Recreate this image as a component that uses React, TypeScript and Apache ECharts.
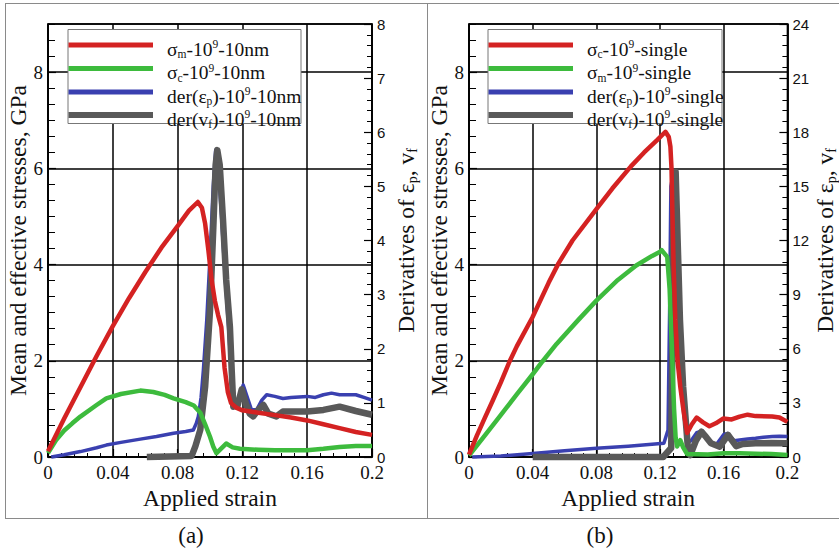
import React, { useEffect, useRef } from 'react';
import * as echarts from 'echarts';

const SERIF = 'Liberation Serif';
const SANS = 'Liberation Sans';

// ---------- data (strain, value) ----------
// panel (a): left axis GPa
const aSigmaM: [number, number][] = [
  [0, 0.12], [0.01, 0.8], [0.02, 1.45], [0.03, 2.1], [0.04, 2.72], [0.05, 3.3], [0.06, 3.84],
  [0.07, 4.35], [0.08, 4.8], [0.087, 5.12], [0.0925, 5.3], [0.095, 5.18], [0.097, 4.85],
  [0.099, 4.3], [0.101, 3.68], [0.103, 3.25], [0.105, 2.95], [0.107, 2.7], [0.109, 1.85],
  [0.111, 1.35], [0.113, 1.12], [0.1165, 1.02], [0.12, 0.97], [0.13, 0.92], [0.14, 0.87],
  [0.15, 0.82], [0.16, 0.76], [0.17, 0.68], [0.18, 0.6], [0.19, 0.52], [0.2, 0.46],
];
const aSigmaC: [number, number][] = [
  [0, 0.08], [0.005, 0.35], [0.01, 0.55], [0.015, 0.7], [0.02, 0.84], [0.03, 1.08], [0.036, 1.22],
  [0.045, 1.31], [0.057, 1.38], [0.065, 1.35], [0.072, 1.29], [0.0775, 1.22], [0.085, 1.14],
  [0.09, 1.07], [0.094, 0.92], [0.097, 0.68], [0.1, 0.42], [0.102, 0.22], [0.104, 0.08],
  [0.107, 0.18], [0.11, 0.28], [0.114, 0.2], [0.1185, 0.17], [0.13, 0.15], [0.14, 0.14],
  [0.15, 0.14], [0.16, 0.14], [0.17, 0.17], [0.18, 0.21], [0.19, 0.23], [0.2, 0.23],
];
// panel (a): right axis
const aDerEp: [number, number][] = [
  [0.002, 0], [0.01, 0.04], [0.02, 0.1], [0.03, 0.17], [0.036, 0.22], [0.045, 0.27], [0.057, 0.33],
  [0.067, 0.38], [0.0775, 0.44], [0.085, 0.47], [0.0897, 0.5], [0.0915, 0.62], [0.0928, 0.75],
  [0.0945, 1.1], [0.0959, 1.6], [0.098, 2.53], [0.1, 3.7], [0.102, 5.0], [0.1035, 5.67],
  [0.105, 5.4], [0.107, 4.5], [0.109, 3.5], [0.111, 2.6], [0.1125, 1.9], [0.114, 1.3],
  [0.1155, 0.95], [0.118, 1.1], [0.1205, 1.33], [0.1225, 1.15], [0.1255, 0.88], [0.1288, 0.87],
  [0.132, 1.05], [0.135, 1.15], [0.14, 1.12], [0.145, 1.08], [0.15, 1.1], [0.16, 1.12],
  [0.165, 1.1], [0.17, 1.15], [0.175, 1.18], [0.18, 1.15], [0.19, 1.15], [0.195, 1.1], [0.2, 1.05],
];
const aDerVf: [number, number][] = [
  [0.061, 0], [0.0887, 0.02], [0.091, 0.2], [0.094, 0.5], [0.097, 1.3], [0.1, 2.7], [0.102, 4.2],
  [0.1035, 5.4], [0.1045, 5.67], [0.106, 5.4], [0.108, 4.4], [0.11, 3.27], [0.1123, 2.4],
  [0.1134, 1.6], [0.1144, 0.93], [0.117, 0.95], [0.1196, 1.25], [0.122, 1.0], [0.1245, 0.8],
  [0.1267, 0.75], [0.13, 0.88], [0.133, 0.96], [0.136, 0.8], [0.141, 0.75], [0.145, 0.84],
  [0.15, 0.84], [0.16, 0.84], [0.17, 0.87], [0.18, 0.93], [0.19, 0.85], [0.2, 0.78],
];
// panel (b): left axis GPa
const bSigmaC: [number, number][] = [
  [0, 0.05], [0.005, 0.45], [0.01, 0.82], [0.015, 1.18], [0.02, 1.55], [0.0254, 1.98], [0.03, 2.3],
  [0.0398, 2.9], [0.05, 3.62], [0.0563, 4.03], [0.065, 4.5], [0.0811, 5.2], [0.09, 5.58],
  [0.1017, 6.04], [0.11, 6.33], [0.1183, 6.59], [0.1234, 6.76], [0.1255, 6.65], [0.1265, 6.45],
  [0.1272, 6.0], [0.1276, 5.34], [0.1285, 4.0], [0.1296, 2.85], [0.131, 2.0], [0.1327, 1.46],
  [0.135, 0.9], [0.137, 0.5], [0.14, 0.68], [0.143, 0.82], [0.147, 0.72], [0.151, 0.64],
  [0.155, 0.7], [0.1596, 0.8], [0.165, 0.78], [0.17, 0.84], [0.175, 0.88], [0.18, 0.85],
  [0.1905, 0.84], [0.195, 0.82], [0.2, 0.73],
];
const bSigmaM: [number, number][] = [
  [0, 0.03], [0.01, 0.45], [0.0192, 0.84], [0.03, 1.3], [0.04, 1.72], [0.046, 1.98], [0.055, 2.35],
  [0.0687, 2.85], [0.08, 3.25], [0.0935, 3.68], [0.105, 3.98], [0.115, 4.18], [0.1203, 4.27],
  [0.121, 4.3], [0.1245, 4.16], [0.126, 3.5], [0.1275, 2.2], [0.1288, 1.0], [0.1298, 0.4],
  [0.1307, 0.22], [0.1327, 0.35], [0.1345, 0.2], [0.137, 0.06], [0.15, 0.05], [0.16, 0.08],
  [0.17, 0.08], [0.18, 0.07], [0.19, 0.06], [0.2, 0.04],
];
// panel (b): right axis
const bDerEp: [number, number][] = [
  [0.002, 0], [0.02, 0.05], [0.04, 0.2], [0.06, 0.35], [0.08, 0.48], [0.1, 0.6], [0.1224, 0.76],
  [0.125, 1.5], [0.126, 8], [0.1268, 15], [0.1285, 15.8], [0.1295, 15], [0.132, 8], [0.1345, 3],
  [0.137, 0.8], [0.1395, 0.9], [0.143, 1.35], [0.1465, 1.45], [0.1515, 0.8], [0.1555, 0.7],
  [0.16, 1.25], [0.1625, 1.3], [0.1665, 0.9], [0.17, 0.94], [0.175, 1.0], [0.18, 1.04],
  [0.185, 1.1], [0.1905, 1.13], [0.195, 1.15], [0.2, 1.13],
];
const bDerVf: [number, number][] = [
  [0.04, 0], [0.122, 0], [0.127, 0.5], [0.128, 8], [0.1285, 15.8], [0.1298, 15.8], [0.1325, 7.6],
  [0.1345, 3.9], [0.1375, 0.5], [0.139, 0.1], [0.1425, 0.9], [0.146, 1.4], [0.149, 1.1],
  [0.152, 0.76], [0.1575, 0.57], [0.1627, 1.22], [0.1678, 0.6], [0.172, 0.72], [0.18, 0.76],
  [0.19, 0.77], [0.2, 0.76],
];

const namesA = ['σm-10⁹-10nm', 'σc-10⁹-10nm', 'der(εp)-10⁹-10nm', 'der(vf)-10⁹-10nm'];
const namesB = ['σc-10⁹-single', 'σm-10⁹-single', 'der(εp)-10⁹-single', 'der(vf)-10⁹-single'];
// legend label parts: [before subscript, subscript, after subscript]
const partsA: [string, string, string][] = [['σ', 'm', ''], ['σ', 'c', ''], ['der(ε', 'p', ')'], ['der(v', 'f', ')']];
const partsB: [string, string, string][] = [['σ', 'c', ''], ['σ', 'm', ''], ['der(ε', 'p', ')'], ['der(v', 'f', ')']];

const COLORS = ['#d42222', '#3dbb3d', '#3a40b0', '#595959'];
const WIDTHS = [4.5, 4.5, 3.5, 6.5];
const ZS = [5, 4, 2, 3];

const xTitle = '{t|Applied strain}';
const leftTitle = '{t|Mean and effective stresses, GPa}';
const rightTitle = '{n|Derivatives of ε}{sub|p}{n|, v}{sub|f}';

export default function App() {
  const ref = useRef<HTMLDivElement>(null);
  useEffect(() => {
    if (!ref.current) return;
    const chart = echarts.init(ref.current, null, { renderer: 'svg' });

    const grids = [
      { left: 48, top: 24, width: 324, height: 433 },
      { left: 469, top: 24, width: 323, height: 433 },
    ];
    const titleRich = { t: { fontFamily: SERIF, fontSize: 23.5, lineHeight: 24, color: '#111' } };
    const serifLabel = { s: { fontFamily: SERIF, fontSize: 19, lineHeight: 20, color: '#111' } };
    const sansLabel = { s: { fontFamily: SANS, fontSize: 15, lineHeight: 16, color: '#111' } };
    const fmt = (v: number) => `{s|${+Number(v).toFixed(2)}}`;

    const xAxis: any[] = grids.map((_, i) => ({
      type: 'value', gridIndex: i, min: 0, max: 0.2, interval: 0.04,
      axisLine: { show: true, onZero: false, lineStyle: { color: '#000', width: 1.5 } },
      axisTick: { show: true, inside: true, length: 8, lineStyle: { color: '#000', width: 1.2 } },
      minorTick: { show: true, splitNumber: 5, length: 4, lineStyle: { color: '#000', width: 1 } },
      splitLine: { show: true, lineStyle: { color: '#000', width: 1.5 } },
      axisLabel: { color: '#111', fontFamily: SERIF, fontSize: 19, margin: 5, formatter: fmt, rich: serifLabel },
      name: xTitle, nameLocation: 'middle', nameGap: 28,
      nameTextStyle: { color: '#111', fontFamily: SERIF, fontSize: 23.5, rich: titleRich },
    }));
    // helper cartesians for left-axis fine ticks
    xAxis.push({ type: 'value', gridIndex: 2, min: 0, max: 1, show: false });
    xAxis.push({ type: 'value', gridIndex: 3, min: 0, max: 1, show: false });

    const leftAxis = (g: number) => ({
      type: 'value', gridIndex: g, position: 'left', min: 0, max: 9, interval: 2,
      axisLine: { show: true, onZero: false, lineStyle: { color: '#000', width: 1.5 } },
      axisTick: { show: true, inside: true, length: 8, lineStyle: { color: '#000', width: 1.2 } },
      splitLine: { show: true, lineStyle: { color: '#000', width: 1.5 } },
      axisLabel: { color: '#111', fontFamily: SERIF, fontSize: 19, margin: 5, showMaxLabel: false, formatter: fmt, rich: serifLabel },
      name: leftTitle, nameLocation: 'middle', nameGap: 12,
      nameTextStyle: { color: '#111', fontFamily: SERIF, fontSize: 23.5, rich: titleRich },
    });
    const rightAxis = (g: number, max: number, interval: number) => ({
      type: 'value', gridIndex: g, position: 'right', min: 0, max, interval,
      axisLine: { show: true, onZero: false, lineStyle: { color: '#000', width: 1.5 } },
      axisTick: { show: true, inside: true, length: 8, lineStyle: { color: '#000', width: 1.2 } },
      minorTick: { show: true, splitNumber: 5, length: 5, lineStyle: { color: '#000', width: 1 } },
      splitLine: { show: false },
      axisLabel: { color: '#111', fontFamily: SANS, fontSize: 15, margin: 5, formatter: fmt, rich: sansLabel },
      name: rightTitle, nameLocation: 'middle', nameGap: 21,
      nameTextStyle: {
        color: '#111', fontFamily: SERIF, fontSize: 23.5,
        rich: {
          n: { fontFamily: SERIF, fontSize: 23.5, lineHeight: 26, color: '#111' },
          sub: { fontFamily: SERIF, fontSize: 14, lineHeight: 14, verticalAlign: 'bottom', color: '#111' },
        },
      },
    });
    const helperAxis = (g: number) => ({
      type: 'value', gridIndex: g, position: 'left', min: 0, max: 27, interval: 1,
      axisLine: { show: false }, axisLabel: { show: false }, splitLine: { show: false },
      axisTick: { show: true, inside: true, length: 7, lineStyle: { color: '#000', width: 1 } },
    });

    const yAxis = [leftAxis(0), rightAxis(0, 8, 1), leftAxis(1), rightAxis(1, 24, 3), helperAxis(2), helperAxis(3)];

    const mk = (name: string, data: [number, number][], k: number, xi: number, yi: number) => ({
      type: 'line', name, data, xAxisIndex: xi, yAxisIndex: yi,
      showSymbol: false, symbol: 'none', clip: false, silent: true, z: ZS[k],
      lineStyle: { color: COLORS[k], width: WIDTHS[k], join: 'round', cap: 'butt' },
      itemStyle: { color: COLORS[k] },
    });

    const series = [
      mk(namesA[0], aSigmaM, 0, 0, 0),
      mk(namesA[1], aSigmaC, 1, 0, 0),
      mk(namesA[2], aDerEp, 2, 0, 1),
      mk(namesA[3], aDerVf, 3, 0, 1),
      mk(namesB[0], bSigmaC, 0, 1, 2),
      mk(namesB[1], bSigmaM, 1, 1, 2),
      mk(namesB[2], bDerEp, 2, 1, 3),
      mk(namesB[3], bDerVf, 3, 1, 3),
    ];

    const font = (s: number) => `${s}px ${SERIF}`;
    const legendRich = {
      n: { font: font(19.5), fontFamily: SERIF, fontSize: 19.5, lineHeight: 22, fill: '#111' },
      sub: { font: font(11.5), fontFamily: SERIF, fontSize: 11.5, lineHeight: 12, verticalAlign: 'bottom', fill: '#111' },
      sup: { font: font(11.5), fontFamily: SERIF, fontSize: 11.5, lineHeight: 13, verticalAlign: 'top', fill: '#111' },
    };
    const rowY = [45, 68.5, 92, 115];
    const legend = (bx: number, width: number, parts: [string, string, string][], tail: string) => {
      const els: any[] = [
        { type: 'rect', z: 100, shape: { x: bx, y: 29.5, width, height: 94 }, style: { fill: '#fff', stroke: '#777', lineWidth: 1 } },
      ];
      parts.forEach((p, k) => {
        els.push({ type: 'line', z: 101, shape: { x1: bx + 0.5, y1: rowY[k], x2: bx + 85, y2: rowY[k] }, style: { stroke: COLORS[k], lineWidth: k === 3 ? 6 : 5 } });
        els.push({
          type: 'text', z: 101, x: bx + 99, y: rowY[k] + 4,
          style: {
            text: `{n|${p[0]}}{sub|${p[1]}}{n|${p[2]}-10}{sup|9}{n|-${tail}}`,
            rich: legendRich, fill: '#111', font: font(19.5),
            align: 'left', verticalAlign: 'middle', textAlign: 'left', textVerticalAlign: 'middle',
          },
        });
      });
      return els;
    };

    const frame = { stroke: '#8a8a8a', lineWidth: 1 };
    const graphic: any[] = [
      { type: 'line', shape: { x1: 5, y1: 3.5, x2: 839, y2: 3.5 }, style: frame },
      { type: 'line', shape: { x1: 5, y1: 518.5, x2: 839, y2: 518.5 }, style: frame },
      { type: 'line', shape: { x1: 5.5, y1: 3, x2: 5.5, y2: 519 }, style: frame },
      { type: 'line', shape: { x1: 427.5, y1: 3, x2: 427.5, y2: 519 }, style: frame },
      { type: 'text', x: 191, y: 535, style: { text: '(a)', font: font(23), fill: '#111', align: 'center', verticalAlign: 'middle', textAlign: 'center', textVerticalAlign: 'middle' } },
      { type: 'text', x: 600, y: 535, style: { text: '(b)', font: font(23), fill: '#111', align: 'center', verticalAlign: 'middle', textAlign: 'center', textVerticalAlign: 'middle' } },
      ...legend(68, 233, partsA, '10nm'),
      ...legend(488, 234, partsB, 'single'),
    ];

    chart.setOption({
      animation: false,
      backgroundColor: '#fff',
      textStyle: { fontFamily: SERIF },
      grid: [
        { ...grids[0], show: true, borderColor: '#000', borderWidth: 1.5, backgroundColor: 'transparent' },
        { ...grids[1], show: true, borderColor: '#000', borderWidth: 1.5, backgroundColor: 'transparent' },
        { ...grids[0], show: false },
        { ...grids[1], show: false },
      ],
      xAxis,
      yAxis,
      series,
      graphic,
    });
    return () => chart.dispose();
  }, []);
  return <div ref={ref} style={{ position: 'absolute', left: 0, top: 0, width: 839, height: 551, background: '#fff' }} />;
}
